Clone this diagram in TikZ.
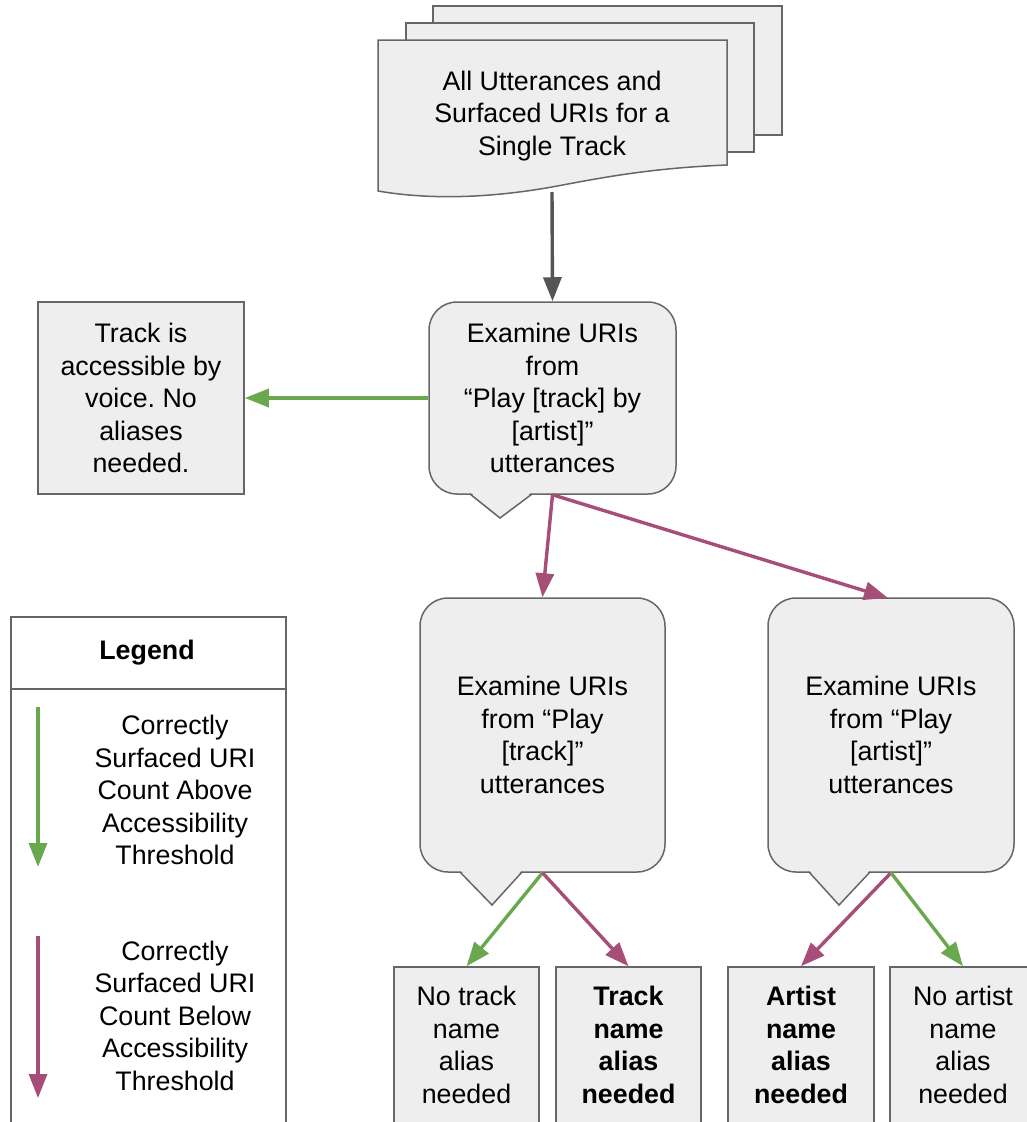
\documentclass[tikz,border=0pt]{standalone}
\usepackage{fontspec}
\setmainfont{Liberation Sans}
\frenchspacing
\usetikzlibrary{arrows.meta}
\definecolor{boxfill}{RGB}{238,238,238}
\definecolor{boxline}{RGB}{102,102,102}
\definecolor{arrgray}{RGB}{85,85,85}
\definecolor{arrgreen}{RGB}{106,168,79}
\definecolor{arrpurple}{RGB}{166,77,121}
\begin{document}
\begin{tikzpicture}[x=1pt,y=-1pt,
  shapebox/.style={draw=boxline, fill=boxfill, line width=1.5pt},
  txt/.style={align=center, font=\fontsize{26.8}{32.5}\selectfont, inner sep=0pt},
  btxt/.style={align=center, font=\fontsize{26.8}{32.5}\selectfont\bfseries, inner sep=0pt},
  conn/.style={line width=3.4pt, -{Triangle[length=24pt,width=18pt]}},
  grayconn/.style={conn, color=arrgray},
  greenconn/.style={conn, color=arrgreen},
  purpleconn/.style={conn, color=arrpurple},
  bubble/.style={shapebox, rounded corners=28pt, inner sep=0pt, align=center, font=\fontsize{26.8}{32.5}\selectfont},
  pointerfill/.style={fill=boxfill},
  pointerline/.style={draw=boxline, line width=1.5pt, line join=miter}
]
\useasboundingbox (0,0) rectangle (1027,1122);
\clip (0,0) rectangle (1027,1122);
\fill[white] (0,0) rectangle (1027,1122);

% document stack
\draw[shapebox] (433,6) rectangle (782,135);
\draw[shapebox] (406,23) rectangle (754,152);
\draw[shapebox] (378,40) -- (727,40) -- (727,165)
  .. controls (650,168) and (600,178) .. (552,187)
  .. controls (490,198) and (430,200) .. (378,191) -- cycle;
\node[txt] (doc) at (552,116) {All Utterances and\\Surfaced URIs for a\\Single Track};
\coordinate (docb) at (552,192);

% first callout
\node[bubble, minimum width=247pt, minimum height=192pt] (e1) at (552.5,398)
  {Examine URIs\\from\\“Play [track] by\\{[artist]”}\\utterances};
\fill[pointerfill] (470,492) -- (500,518) -- (532,492) -- cycle;
\draw[pointerline] (470,494) -- (500,518) -- (532,494);

% accessible box
\node[shapebox, txt, minimum width=206pt, minimum height=192pt] (acc) at (141,398)
  {Track is\\accessible by\\voice. No\\aliases\\needed.};

% second and third callouts
\node[bubble, minimum width=245pt, minimum height=274pt] (e2) at (542.5,735)
  {Examine URIs\\from “Play\\{[track]”}\\utterances};
\fill[pointerfill] (460,870) -- (492,905) -- (522,870) -- cycle;
\draw[pointerline] (460,872) -- (492,905) -- (522,872);

\node[bubble, minimum width=246pt, minimum height=274pt] (e3) at (891,735)
  {Examine URIs\\from “Play\\{[artist]”}\\utterances};
\fill[pointerfill] (809,870) -- (839,905) -- (870,870) -- cycle;
\draw[pointerline] (809,872) -- (839,905) -- (870,872);
\coordinate (e3in) at (888,598);

% bottom boxes
\node[shapebox, minimum width=145pt, minimum height=200pt] (b1) at (466.5,1067) {};
\node[shapebox, minimum width=145pt, minimum height=200pt] (b2) at (628.5,1067) {};
\node[shapebox, minimum width=146pt, minimum height=200pt] (b3) at (801,1067) {};
\node[shapebox, minimum width=146pt, minimum height=200pt] (b4) at (963,1067) {};
\node[txt] (b1t) at (466.5,1045) {No track\\name\\alias\\needed};
\node[btxt] (b2t) at (628.5,1045) {Track\\name\\alias\\needed};
\node[btxt] (b3t) at (801,1045) {Artist\\name\\alias\\needed};
\node[txt] (b4t) at (963,1045) {No artist\\name\\alias\\needed};

% connectors
\draw[grayconn] (docb) -- (e1.north);
\draw[greenconn] (e1.west) -- (acc.east);
\draw[purpleconn] (e1.south) -- (e2.north);
\draw[purpleconn] (e1.south) -- (e3in);
\draw[greenconn] (e2.south) -- (b1.north);
\draw[purpleconn] (e2.south) -- (b2.north);
\draw[purpleconn] (e3.south) -- (b3.north);
\draw[greenconn] (e3.south) -- (b4.north);

% legend
\node[draw=boxline, fill=white, line width=1.5pt, minimum width=275pt, minimum height=600pt, anchor=north west, inner sep=0pt] (leg) at (10,616) {};
\coordinate (legl) at (10,689);
\coordinate (legr) at (285,689);
\draw[boxline, line width=1.5pt] (legl) -- (legr);
\node[btxt] (legh) at (147,653) {Legend};
\coordinate (g1) at (38,707);
\coordinate (g2) at (38,867);
\draw[greenconn] (g1) -- (g2);
\node[txt] (gt) at (175,790) {Correctly\\Surfaced URI\\Count Above\\Accessibility\\Threshold};
\coordinate (p1) at (38,936);
\coordinate (p2) at (38,1098);
\draw[purpleconn] (p1) -- (p2);
\node[txt] (pt) at (175,1015.5) {Correctly\\Surfaced URI\\Count Below\\Accessibility\\Threshold};
\end{tikzpicture}
\end{document}
